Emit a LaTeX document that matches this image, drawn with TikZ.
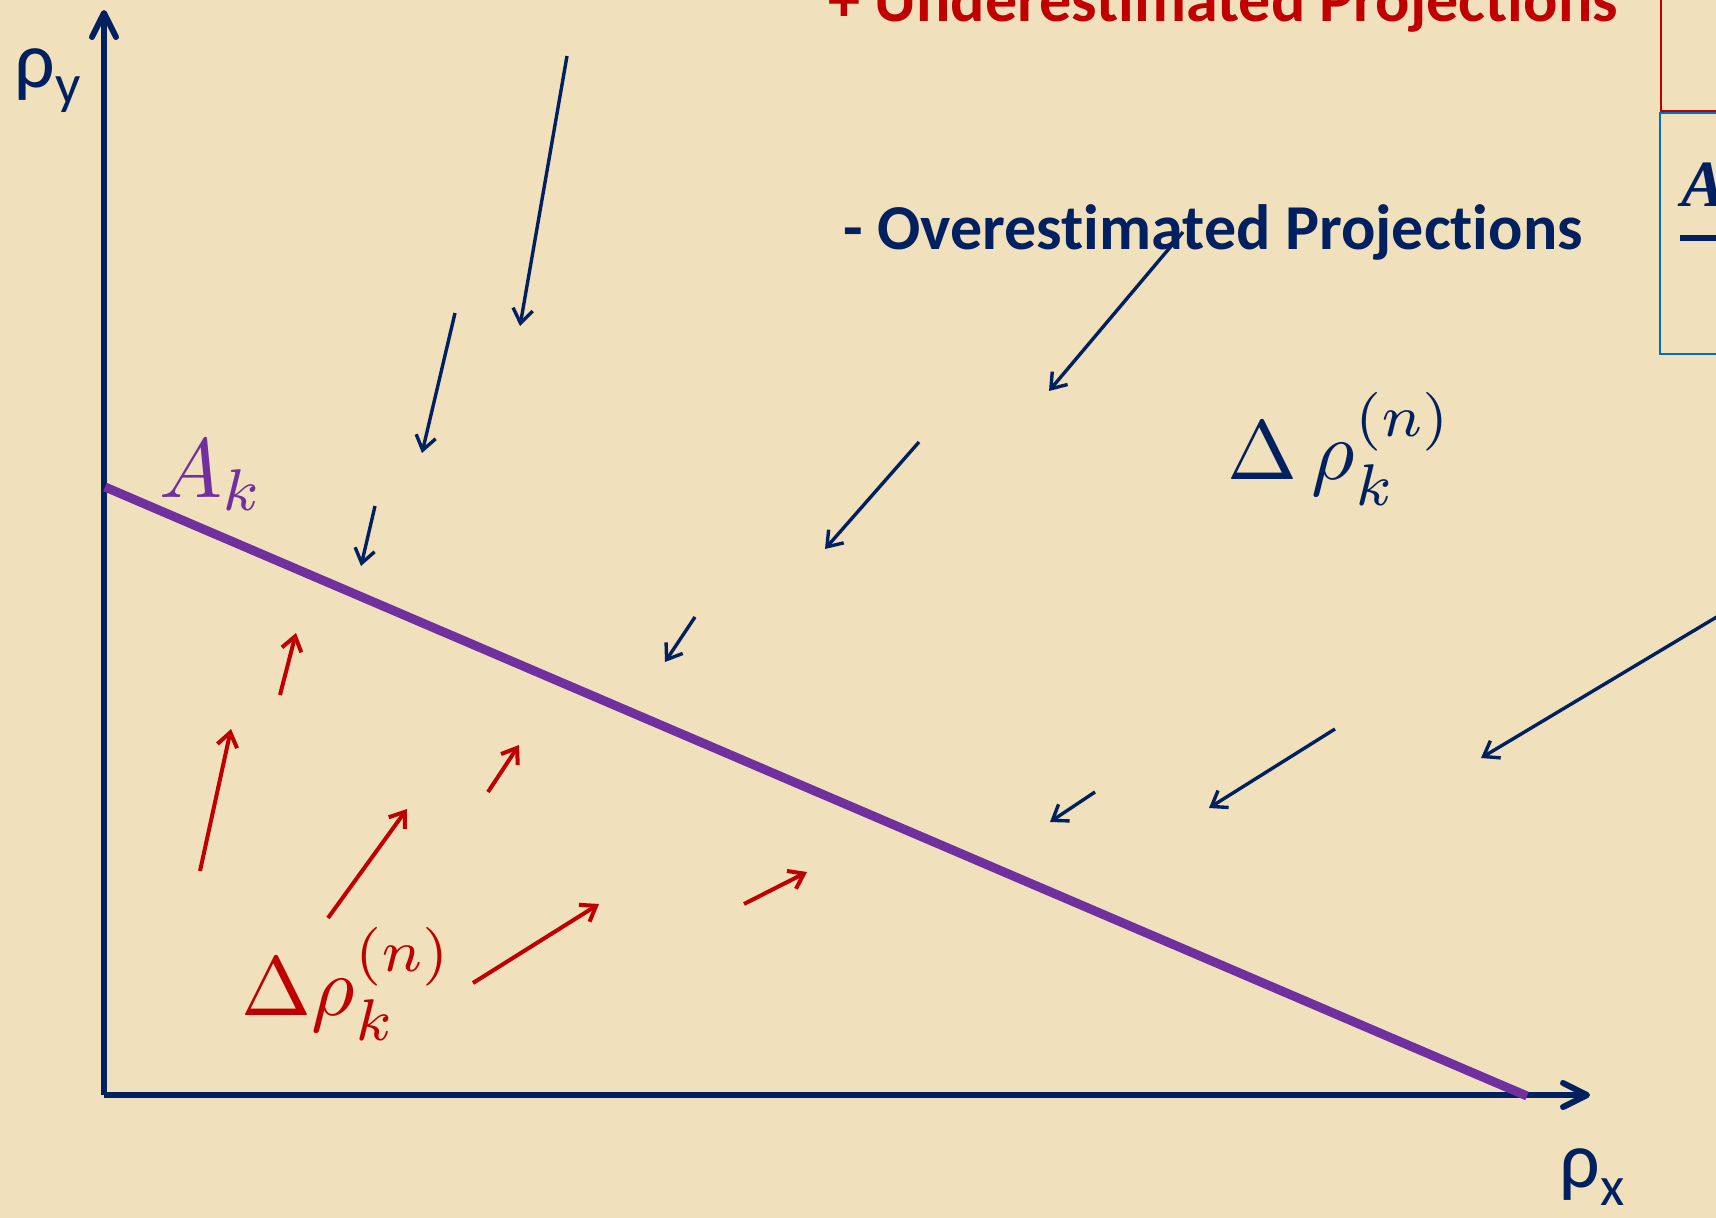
\documentclass[tikz,border=0pt]{standalone}
\usepackage[no-math]{fontspec}
\setmainfont[Ligatures=NoCommon]{Carlito}
\newfontfamily\timesfont{Liberation Serif}
\usetikzlibrary{arrows.meta}
\definecolor{navy}{HTML}{002060}
\definecolor{darkred}{HTML}{C00000}
\definecolor{purp}{HTML}{7030A0}
\definecolor{boxblue}{HTML}{0070C0}
\definecolor{bg}{HTML}{F0E0BC}
\tikzset{
  axis/.style={navy, line width=3pt, -{Straight Barb[length=12pt,width=12pt,round]}},
  bluearr/.style={navy, line width=1.7pt, -{Straight Barb[length=7pt,width=10pt]}},
  redarr/.style={darkred, line width=2pt, -{Straight Barb[length=7pt,width=10pt]}},
  title/.style={anchor=base west, inner sep=0pt, font=\fontsize{32}{38}\selectfont\bfseries},
  axlabel/.style={anchor=base west, inner sep=0pt, navy, font=\fontsize{40}{48}\selectfont},
  mathlabel/.style={anchor=base west, inner sep=0pt, scale=4.2},
}
\begin{document}
\begin{tikzpicture}[x=0.5pt,y=-0.5pt]
\useasboundingbox (0,0) rectangle (1716,1218);
\fill[bg] (0,0) rectangle (1716,1218);

% boxes at the right edge
\draw[darkred, line width=0.8pt] (1730,-10) -- (1661,-10) -- (1661,111) -- (1730,111);
\draw[boxblue, line width=1pt] (1730,113) -- (1660,113) -- (1660,354) -- (1730,354);
\node[anchor=base west, inner sep=0pt, navy, font=\fontsize{33}{40}\selectfont\timesfont\bfseries\itshape] (boxA) at (1681,207) {A};
\coordinate (barL) at (1680,238);
\coordinate (barR) at (1730,238);
\draw[navy, line width=3pt] (barL) -- (barR);

% axes
\coordinate (O) at (104,1095);
\coordinate (ytip) at (104,10);
\coordinate (xtip) at (1590,1095);
\draw[axis] (O) -- (ytip);
\draw[axis] (O) -- (xtip);
\node[axlabel] (ly) at (14,88) {ρ\raisebox{-8pt}{\fontsize{28}{30}\selectfont y}};
\node[axlabel] (lx) at (1559,1187) {ρ\raisebox{-9pt}{\fontsize{28}{30}\selectfont x}};

% constraint line
\coordinate (L1) at (105,487);
\coordinate (L2) at (1527,1096);
\draw[purp, line width=4.5pt] (L1) -- (L2);
\node[mathlabel, purp] (Ak) at (158,498) {$A_k$};

% titles
\node[title, darkred] (under) at (828,22) {+ Underestimated Projections};
\node[title, navy] (over) at (843,250) {- Overestimated Projections};

% labels
\node[mathlabel, navy] (dblue) at (1226,480) {$\Delta\,\rho_k^{(n)}$};
\node[mathlabel, darkred] (dred) at (240,1015) {$\Delta\rho_k^{(n)}$};

% blue arrows
\coordinate (b1s) at (567,56);   \coordinate (b1e) at (520,326);
\coordinate (b2s) at (455,313);  \coordinate (b2e) at (422,453);
\coordinate (b3s) at (375,506);  \coordinate (b3e) at (361,566);
\coordinate (b4s) at (1183,232); \coordinate (b4e) at (1049,391);
\coordinate (b5s) at (919,442);  \coordinate (b5e) at (825,549);
\coordinate (b6s) at (695,617);  \coordinate (b6e) at (665,662);
\coordinate (b7s) at (1725,612); \coordinate (b7e) at (1481,758);
\coordinate (b8s) at (1335,729); \coordinate (b8e) at (1209,808);
\coordinate (b9s) at (1095,792); \coordinate (b9e) at (1050,822);
\foreach \i in {1,...,9} \draw[bluearr] (b\i s) -- (b\i e);

% red arrows
\coordinate (r1s) at (200,871);  \coordinate (r1e) at (231,729);
\coordinate (r2s) at (280,695);  \coordinate (r2e) at (296,633);
\coordinate (r3s) at (328,918);  \coordinate (r3e) at (407,809);
\coordinate (r4s) at (488,792);  \coordinate (r4e) at (519,745);
\coordinate (r5s) at (473,983);  \coordinate (r5e) at (599,904);
\coordinate (r6s) at (744,904);  \coordinate (r6e) at (807,872);
\foreach \i in {1,...,6} \draw[redarr] (r\i s) -- (r\i e);
\end{tikzpicture}
\end{document}
